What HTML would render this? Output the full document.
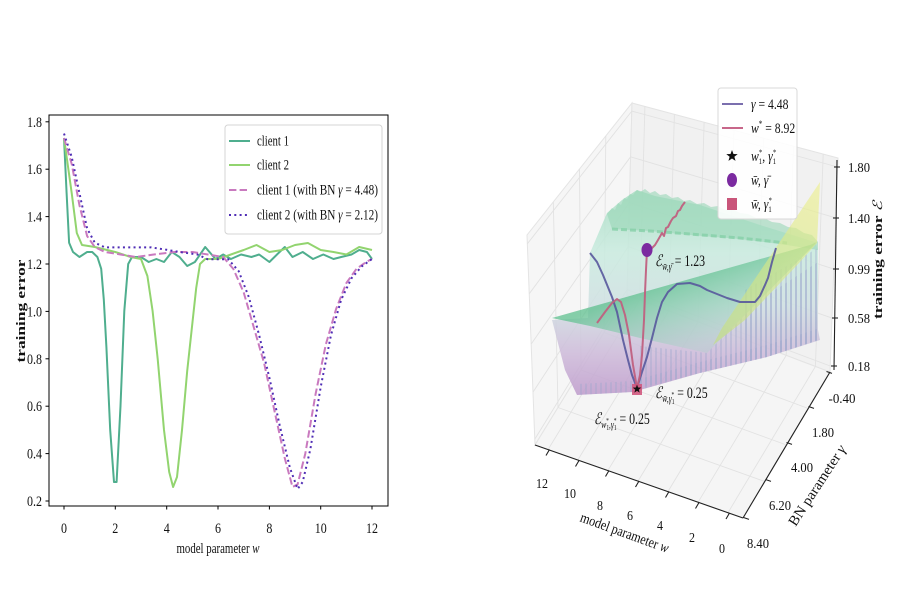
<!DOCTYPE html>
<html><head><meta charset="utf-8"><style>html,body{margin:0;padding:0;background:#fff}svg{display:block}</style></head>
<body>
<svg width="900" height="600" viewBox="0 0 900 600" xmlns="http://www.w3.org/2000/svg" font-family="'Liberation Serif','DejaVu Serif',serif">
<defs>
<linearGradient id="bodyG" gradientUnits="userSpaceOnUse" x1="0" y1="190" x2="0" y2="400">
<stop offset="0" stop-color="#a6dcc1"/><stop offset="0.3" stop-color="#c9ebdf"/><stop offset="0.55" stop-color="#cfe0e2"/><stop offset="0.78" stop-color="#cdb9d9"/><stop offset="1" stop-color="#bc97ca"/>
</linearGradient>
<linearGradient id="yelG" gradientUnits="userSpaceOnUse" x1="820" y1="182" x2="725" y2="345">
<stop offset="0" stop-color="#eef08c"/><stop offset="1" stop-color="#c4df7c"/>
</linearGradient>
<linearGradient id="grnG" gradientUnits="userSpaceOnUse" x1="660" y1="285" x2="685" y2="352">
<stop offset="0" stop-color="#5fc08f" stop-opacity="0.75"/><stop offset="1" stop-color="#9fd5c2" stop-opacity="0.3"/>
</linearGradient>
<pattern id="spk" width="5" height="600" patternUnits="userSpaceOnUse">
<rect x="0" y="0" width="2" height="600" fill="#9aa6cc" opacity="0.35"/>
</pattern>
</defs>
<rect width="900" height="600" fill="#fff"/>

<!-- ============ LEFT PLOT ============ -->
<g stroke="#000" stroke-width="1">
<line x1="45.5" y1="121.8" x2="49" y2="121.8"/><line x1="45.5" y1="169.2" x2="49" y2="169.2"/>
<line x1="45.5" y1="216.6" x2="49" y2="216.6"/><line x1="45.5" y1="264" x2="49" y2="264"/>
<line x1="45.5" y1="311.4" x2="49" y2="311.4"/><line x1="45.5" y1="358.8" x2="49" y2="358.8"/>
<line x1="45.5" y1="406.2" x2="49" y2="406.2"/><line x1="45.5" y1="453.6" x2="49" y2="453.6"/>
<line x1="45.5" y1="501" x2="49" y2="501"/>
<line x1="64" y1="506" x2="64" y2="509.5"/><line x1="115.3" y1="506" x2="115.3" y2="509.5"/>
<line x1="166.7" y1="506" x2="166.7" y2="509.5"/><line x1="218" y1="506" x2="218" y2="509.5"/>
<line x1="269.4" y1="506" x2="269.4" y2="509.5"/><line x1="320.7" y1="506" x2="320.7" y2="509.5"/>
<line x1="372" y1="506" x2="372" y2="509.5"/>
</g>
<g font-size="14.5" fill="#111" text-anchor="end">
<text x="42" y="126.8" textLength="15" lengthAdjust="spacingAndGlyphs">1.8</text>
<text x="42" y="174.2" textLength="15" lengthAdjust="spacingAndGlyphs">1.6</text>
<text x="42" y="221.6" textLength="15" lengthAdjust="spacingAndGlyphs">1.4</text>
<text x="42" y="269" textLength="15" lengthAdjust="spacingAndGlyphs">1.2</text>
<text x="42" y="316.4" textLength="15" lengthAdjust="spacingAndGlyphs">1.0</text>
<text x="42" y="363.8" textLength="15" lengthAdjust="spacingAndGlyphs">0.8</text>
<text x="42" y="411.2" textLength="15" lengthAdjust="spacingAndGlyphs">0.6</text>
<text x="42" y="458.6" textLength="15" lengthAdjust="spacingAndGlyphs">0.4</text>
<text x="42" y="506" textLength="15" lengthAdjust="spacingAndGlyphs">0.2</text>
</g>
<g font-size="14.5" fill="#111" text-anchor="middle">
<text x="64" y="533" textLength="6" lengthAdjust="spacingAndGlyphs">0</text><text x="115.3" y="533" textLength="6" lengthAdjust="spacingAndGlyphs">2</text><text x="166.7" y="533" textLength="6" lengthAdjust="spacingAndGlyphs">4</text>
<text x="218" y="533" textLength="6" lengthAdjust="spacingAndGlyphs">6</text><text x="269.4" y="533" textLength="6" lengthAdjust="spacingAndGlyphs">8</text>
<text x="320.7" y="533" textLength="12" lengthAdjust="spacingAndGlyphs">10</text>
<text x="372" y="533" textLength="12" lengthAdjust="spacingAndGlyphs">12</text>
</g>
<text x="218" y="553" text-anchor="middle" font-size="14.5" fill="#111" textLength="83" lengthAdjust="spacingAndGlyphs">model parameter <tspan font-style="italic">w</tspan></text>
<text transform="translate(25,311) rotate(-90)" text-anchor="middle" font-size="13" font-weight="bold" fill="#111" textLength="103" lengthAdjust="spacingAndGlyphs">training error</text>

<g fill="none" stroke-width="2" stroke-linejoin="round">
<polyline stroke="#4fae8e" points="64,138 66.6,193 69.1,242.7 73,252 79.4,257 87.1,252 92.2,252 97.4,257 101.2,268.8 103.8,299.5 106.4,347 110.2,430 114,482 116.6,482 120.5,406 124.3,311 128.2,264 132,257 141,257 148.7,262 156.4,259 164,262 171.8,252 179.5,257 187.2,266 194.9,262 205.2,247 215.5,259 223.2,254.5 230.9,259 241.1,254.5 251.4,257 259.1,254.5 269.4,262 277,254.5 284.8,247 292.5,257 302.7,252 313,259 323.3,254.5 333.5,259 341.2,257 351.5,254.5 359.2,250 366.9,252 372,259"/>
<polyline stroke="#92d46f" points="64,138 71.7,193 76.8,233 82,245 94.8,247 115.3,252 130.7,257 141,259 147.4,276 152.6,311 157.7,359 164,430 169.2,472 173.1,487 177,477 182,430 187.2,371 192.4,323 196.2,288 200,264 205.2,259 218,259 230.9,254.5 243.7,250 256.5,245 269.4,252 282.2,250 295,245 307.9,243 320.7,250 333.5,252 346.4,254.5 359.2,247 372,250"/>
<polyline stroke="#c97abf" stroke-dasharray="7.4,3.2" points="64,138 71.7,164 79.4,205 87.1,236 94.8,247 105,252 120.5,254.5 135.9,257 153.8,254.5 174.4,252 192.4,252 207.8,254.5 223.2,257 233.4,269 243.7,292.5 254,328 264.2,363.5 274.5,411 284.8,458.3 292.5,487 297.6,484.4 305.3,453.6 315.6,394 325.8,344.6 336.1,309 346.4,283 356.6,268.7 366.9,261.6 372,259"/>
<polyline stroke="#4f2db5" stroke-dasharray="2,3.3" points="64,133.6 71.7,157 79.4,193 87.1,228.5 94.8,242.7 105,247.4 128.2,247.4 151.3,247.4 166.7,249.8 179.5,252 197.5,254.5 207.8,259.3 218,259.3 228.3,259.3 238.6,271 248.8,297 259.1,335 269.4,377.8 279.6,425 289.9,467.8 297.6,489 302.7,482 310.4,449 320.7,387 331,335 341.2,299.6 351.5,278.2 361.7,266.4 372,259"/>
</g>
<rect x="49" y="115" width="339" height="391" fill="none" stroke="#000" stroke-width="1"/>

<!-- legend left -->
<rect x="225" y="125" width="157" height="109" rx="3" fill="#fff" fill-opacity="0.85" stroke="#d4d4d4" stroke-width="1"/>
<g stroke-width="2" fill="none">
<line x1="229" y1="141" x2="250" y2="141" stroke="#4fae8e"/>
<line x1="229" y1="165" x2="250" y2="165" stroke="#92d46f"/>
<line x1="229" y1="190" x2="250" y2="190" stroke="#c97abf" stroke-dasharray="7.4,3.2"/>
<line x1="229" y1="215" x2="250" y2="215" stroke="#4f2db5" stroke-dasharray="2,3.3"/>
</g>
<g font-size="14.5" fill="#111">
<text x="257" y="145.5" textLength="32" lengthAdjust="spacingAndGlyphs">client 1</text>
<text x="257" y="169.5" textLength="32" lengthAdjust="spacingAndGlyphs">client 2</text>
<text x="257" y="194.5" textLength="121" lengthAdjust="spacingAndGlyphs">client 1 (with BN <tspan font-style="italic">γ</tspan> = 4.48)</text>
<text x="257" y="219.5" textLength="121" lengthAdjust="spacingAndGlyphs">client 2 (with BN <tspan font-style="italic">γ</tspan> = 2.12)</text>
</g>

<!-- ============ RIGHT 3D PLOT ============ -->
<polygon points="535,445 527,235 632,103 627,295" fill="#f6f6f6" stroke="#e4e4e4" stroke-width="1"/>
<polygon points="627,295 632,103 838,158 830,372" fill="#f1f1f1" stroke="#e4e4e4" stroke-width="1"/>
<polygon points="535,445 743,518 830,372 627,295" fill="#f5f5f5" stroke="#e4e4e4" stroke-width="1"/>
<g stroke="#e2e2e2" stroke-width="0.9" fill="none">
<line x1="627.1" y1="289.6" x2="830.2" y2="366"/><line x1="628.3" y1="246.6" x2="832" y2="318.1"/>
<line x1="629.4" y1="202.6" x2="833.8" y2="269.1"/><line x1="630.6" y1="156.8" x2="835.8" y2="217.9"/>
<line x1="631.8" y1="111.1" x2="837.7" y2="167"/>
<line x1="627.1" y1="289.6" x2="534.8" y2="439.1"/><line x1="628.3" y1="246.6" x2="533" y2="392.1"/>
<line x1="629.4" y1="202.6" x2="531.2" y2="344"/><line x1="630.6" y1="156.8" x2="529.2" y2="293.8"/>
<line x1="631.8" y1="111.1" x2="527.3" y2="243.8"/>
<line x1="604" y1="332.5" x2="605.8" y2="136"/><line x1="581" y1="370" x2="579.5" y2="169"/>
<line x1="558" y1="407.5" x2="553.3" y2="202"/>
<line x1="639.7" y1="299.8" x2="644.9" y2="106.4"/><line x1="668.8" y1="310.9" x2="674.4" y2="114.3"/>
<line x1="698.1" y1="322" x2="704.1" y2="122.3"/><line x1="727.5" y1="333.1" x2="734" y2="130.2"/>
<line x1="756.7" y1="344.2" x2="763.6" y2="138.1"/><line x1="786.2" y1="355.4" x2="793.5" y2="146.1"/>
<line x1="815.4" y1="366.5" x2="823.2" y2="154"/>
<line x1="548" y1="449.6" x2="639.7" y2="299.8"/><line x1="577.8" y1="460" x2="668.8" y2="310.9"/>
<line x1="607.8" y1="470.6" x2="698.1" y2="322"/><line x1="638" y1="481.1" x2="727.5" y2="333.1"/>
<line x1="667.9" y1="491.6" x2="756.7" y2="344.2"/><line x1="698.1" y1="502.2" x2="786.2" y2="355.4"/>
<line x1="728" y1="512.7" x2="815.4" y2="366.5"/>
<line x1="604" y1="332.5" x2="808.3" y2="408.5"/><line x1="581" y1="370" x2="786.5" y2="445"/>
<line x1="558" y1="407.5" x2="764.8" y2="481.5"/>
</g>

<!-- surface body -->
<polygon points="590,253 607,213 622,200 637,190 655,196 700,205 760,225 815,242 818,250 818,330 820,340 767,357 700,373 633,392 577,395 565,370 552,320 588,318" fill="url(#bodyG)" fill-opacity="0.85"/>
<!-- noisy top -->
<polygon points="607,214 612,208 615,210 618,203 621,205 624,198 627,199 630,194 633,195 637,190 640,192 645,189 650,193 655,191 660,195 666,194 672,198 678,197 684,201 690,200 697,204 704,203 711,207 718,206 725,210 732,209 740,213 748,214 756,218 764,218 772,222 780,223 788,227 796,228 804,233 812,235 818,242 818,250 787,245 740,239 690,235 650,231 612,229" fill="#9ad7b8" fill-opacity="0.6"/>
<polyline points="612,229 650,231 690,234 740,238 787,243" fill="none" stroke="#86cfa8" stroke-width="3" stroke-dasharray="6,3" opacity="0.8"/>
<!-- spikes -->
<polygon points="745,290 818,248 818,340 767,357 745,362" fill="url(#spk)"/>
<polygon points="640,346 707,353 760,300 818,262 818,340 767,357 700,373 640,388" fill="url(#spk)"/>
<polygon points="577,395 633,392 700,373 767,357 820,340 820,328 767,345 700,362 633,381 577,384" fill="url(#spk)"/>
<!-- green plane -->
<polygon points="552,318 810,245 817,242 760,300 707,353 640,338 590,326" fill="url(#grnG)"/>
<!-- yellow plane -->
<polygon points="820,182 817,243 800,262 745,320 713,345 722,328" fill="url(#yelG)" fill-opacity="0.62"/>

<!-- curves -->
<polyline fill="none" stroke="#58589c" stroke-width="2" stroke-linejoin="round" opacity="0.9" points="590,253 597,262 603,275 612,297 617,312 623,340 628,360 632,375 637,388 642,372 647,357 652,338 657,318 662,302 668,292 677,284 690,283 700,286 707,290 717,294 727,298 740,302 755,302 760,296 765,285 768,278 772,262 776,248"/>
<polyline fill="none" stroke="#c0607f" stroke-width="2" stroke-linejoin="round" opacity="0.95" points="597,323 605,312 612,303 617,299 621,302 625,315 629,335 633,365 637,388 640,375 642,355 644,320 645,293 646,270 647,250 651,249 655,245 658,240 662,233 664,236 666,228 668,227 671,221 673,218 676,216 678,211 680,210 682,206 685,202"/>
<rect x="632" y="384" width="10" height="11" fill="#d0587e" opacity="0.9"/>
<path transform="translate(637,389) scale(0.75)" d="M0,-6 L1.47,-2.02 L5.71,-1.85 L2.38,0.77 L3.53,4.85 L0,2.5 L-3.53,4.85 L-2.38,0.77 L-5.71,-1.85 L-1.47,-2.02 Z" fill="#111"/>
<ellipse cx="647" cy="250" rx="5.5" ry="7" fill="#7b2aa0"/>

<!-- annotations -->
<g transform="translate(655,266) scale(0.74,1)" fill="#111" font-size="16">
<text><tspan font-style="italic">ℰ</tspan><tspan font-size="10.5" dy="4" font-style="italic">w̄,γ̄</tspan><tspan dy="-4"> = 1.23</tspan></text>
</g>
<g transform="translate(655,398) scale(0.74,1)" fill="#111" font-size="16">
<text><tspan font-style="italic">ℰ</tspan><tspan font-size="10.5" dy="4" font-style="italic">w̄,γ</tspan><tspan font-size="7.5" dy="2">1</tspan><tspan font-size="7.5" dx="-4" dy="-7">*</tspan><tspan dy="1"> = 0.25</tspan></text>
</g>
<g transform="translate(594,424) scale(0.74,1)" fill="#111" font-size="16">
<text><tspan font-style="italic">ℰ</tspan><tspan font-size="10.5" dy="4" font-style="italic">w</tspan><tspan font-size="7.5" dy="2">1</tspan><tspan font-size="7.5" dx="-4" dy="-7">*</tspan><tspan font-size="10.5" dy="5" font-style="italic">,γ</tspan><tspan font-size="7.5" dy="2">1</tspan><tspan font-size="7.5" dx="-4" dy="-7">*</tspan><tspan dy="1"> = 0.25</tspan></text>
</g>

<!-- axes lines -->
<g stroke="#222" stroke-width="1.1" fill="none">
<line x1="535" y1="445" x2="743" y2="518"/>
<line x1="743" y1="518" x2="830" y2="372"/>
<line x1="834" y1="370" x2="837" y2="160"/>
<line x1="549.5" y1="449.5" x2="546" y2="455.5"/><line x1="579" y1="460.5" x2="575.5" y2="466.5"/>
<line x1="609" y1="470.5" x2="605.5" y2="476.5"/><line x1="639" y1="481" x2="635.5" y2="487"/>
<line x1="669" y1="491.5" x2="665.5" y2="497.5"/><line x1="699" y1="502.5" x2="695.5" y2="508.5"/>
<line x1="729.5" y1="513" x2="726" y2="519"/>
<line x1="826.5" y1="371.5" x2="832" y2="373.4"/><line x1="808.5" y1="406.5" x2="814" y2="408.4"/>
<line x1="786.5" y1="442.5" x2="792" y2="444.4"/><line x1="765.5" y1="479.5" x2="771" y2="481.4"/>
<line x1="743.5" y1="517.5" x2="749" y2="519.4"/>
<line x1="834" y1="167" x2="840" y2="167"/><line x1="833" y1="218" x2="839" y2="218"/>
<line x1="833" y1="269" x2="839" y2="269"/><line x1="832" y1="318" x2="838" y2="318"/>
<line x1="831" y1="366" x2="837" y2="366"/>
</g>
<g font-size="14" fill="#111">
<text x="848" y="172" textLength="22" lengthAdjust="spacingAndGlyphs">1.80</text>
<text x="848" y="223" textLength="22" lengthAdjust="spacingAndGlyphs">1.40</text>
<text x="848" y="274" textLength="22" lengthAdjust="spacingAndGlyphs">0.99</text>
<text x="848" y="323" textLength="22" lengthAdjust="spacingAndGlyphs">0.58</text>
<text x="848" y="371" textLength="22" lengthAdjust="spacingAndGlyphs">0.18</text>
</g>
<g font-size="14" fill="#111" text-anchor="middle">
<text x="842" y="403" textLength="27" lengthAdjust="spacingAndGlyphs">-0.40</text>
<text x="823" y="437" textLength="22" lengthAdjust="spacingAndGlyphs">1.80</text>
<text x="802" y="472" textLength="22" lengthAdjust="spacingAndGlyphs">4.00</text>
<text x="780" y="510" textLength="22" lengthAdjust="spacingAndGlyphs">6.20</text>
<text x="758" y="548" textLength="22" lengthAdjust="spacingAndGlyphs">8.40</text>
<text x="542" y="488" textLength="12" lengthAdjust="spacingAndGlyphs">12</text>
<text x="570" y="498" textLength="12" lengthAdjust="spacingAndGlyphs">10</text>
<text x="600" y="510" textLength="6" lengthAdjust="spacingAndGlyphs">8</text>
<text x="630" y="520" textLength="6" lengthAdjust="spacingAndGlyphs">6</text>
<text x="660" y="530" textLength="6" lengthAdjust="spacingAndGlyphs">4</text>
<text x="692" y="542" textLength="6" lengthAdjust="spacingAndGlyphs">2</text>
<text x="722" y="553" textLength="6" lengthAdjust="spacingAndGlyphs">0</text>
</g>
<text transform="translate(623,537) rotate(20)" text-anchor="middle" font-size="14.5" fill="#111" textLength="93" lengthAdjust="spacingAndGlyphs">model parameter <tspan font-style="italic">w</tspan></text>
<text transform="translate(821,488) rotate(-57)" text-anchor="middle" font-size="14.5" fill="#111" textLength="93" lengthAdjust="spacingAndGlyphs">BN parameter <tspan font-style="italic">γ</tspan></text>
<text transform="translate(882,260) rotate(-90)" text-anchor="middle" font-size="13" font-weight="bold" fill="#111" textLength="118" lengthAdjust="spacingAndGlyphs">training error <tspan font-weight="normal" font-style="italic">ℰ</tspan></text>

<!-- legend 3D -->
<rect x="718" y="88" width="79" height="131" rx="3" fill="#fff" fill-opacity="0.88" stroke="#d8d8d8" stroke-width="1"/>
<line x1="722" y1="104" x2="743" y2="104" stroke="#7b6fae" stroke-width="2"/>
<line x1="722" y1="128" x2="743" y2="128" stroke="#c8678a" stroke-width="2"/>
<path transform="translate(732,156)" d="M0,-6 L1.47,-2.02 L5.71,-1.85 L2.38,0.77 L3.53,4.85 L0,2.5 L-3.53,4.85 L-2.38,0.77 L-5.71,-1.85 L-1.47,-2.02 Z" fill="#111"/>
<ellipse cx="732" cy="180" rx="5" ry="7" fill="#7b2aa0"/>
<rect x="727" y="198" width="10" height="12" fill="#c9557a"/>
<g fill="#111" font-size="15">
<g transform="translate(751,109) scale(0.78,1)"><text><tspan font-style="italic">γ</tspan> = 4.48</text></g>
<g transform="translate(751,133) scale(0.78,1)"><text><tspan font-style="italic">w</tspan><tspan font-size="9" dy="-6">*</tspan><tspan dy="6"> = 8.92</tspan></text></g>
<g transform="translate(751,161) scale(0.78,1)"><text><tspan font-style="italic">w</tspan><tspan font-size="8.5" dy="3">1</tspan><tspan font-size="8.5" dx="-4" dy="-9">*</tspan><tspan dy="6">, </tspan><tspan font-style="italic">γ</tspan><tspan font-size="8.5" dy="3">1</tspan><tspan font-size="8.5" dx="-4" dy="-9">*</tspan></text></g>
<g transform="translate(751,185) scale(0.78,1)"><text font-style="italic">w̄, γ̄</text></g>
<g transform="translate(751,209) scale(0.78,1)"><text><tspan font-style="italic">w̄, γ</tspan><tspan font-size="8.5" dy="3">1</tspan><tspan font-size="8.5" dx="-4" dy="-9">*</tspan></text></g>
</g>
</svg>
</body></html>
